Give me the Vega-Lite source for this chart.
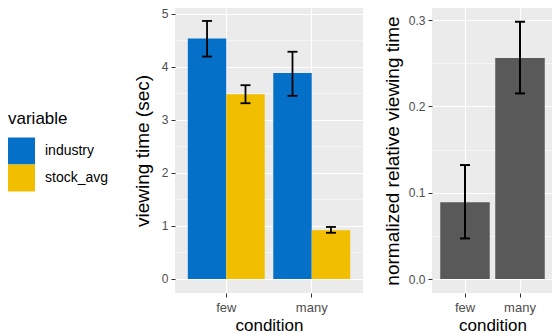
{
  "$schema": "https://vega.github.io/schema/vega-lite/v6.json",
  "padding": {"left": 8, "top": 7, "right": 0, "bottom": 0},
  "config": {
    "font": "Liberation Sans",
    "view": {"fill": "#EBEBEB", "stroke": null},
    "axis": {
      "domain": false,
      "gridColor": "#FFFFFF",
      "gridWidth": 1.2,
      "tickColor": "#333333",
      "tickSize": 4,
      "tickWidth": 1,
      "labelColor": "#4D4D4D",
      "labelFontSize": 12,
      "labelPadding": 3,
      "titleFontSize": 19,
      "titleFontWeight": "normal",
      "titleColor": "#000000"
    }
  },
  "spacing": 20,
  "resolve": {"scale": {"color": "independent"}},
  "hconcat": [
    {
      "width": 188,
      "height": 285,
      "data": {
        "values": [
          {"condition": "few", "variable": "industry", "value": 4.53, "lo": 4.19, "hi": 4.86},
          {"condition": "few", "variable": "stock_avg", "value": 3.48, "lo": 3.31, "hi": 3.65},
          {"condition": "many", "variable": "industry", "value": 3.88, "lo": 3.45, "hi": 4.28},
          {"condition": "many", "variable": "stock_avg", "value": 0.92, "lo": 0.87, "hi": 0.98}
        ]
      },
      "resolve": {"axis": {"y": "independent"}},
      "layer": [
        {
          "mark": {"type": "bar"},
          "encoding": {
            "x": {
              "field": "condition", "type": "nominal",
              "scale": {"paddingInner": 0.1, "paddingOuter": 0.15},
              "axis": {"labelAngle": 0, "grid": true, "bandPosition": 0.5, "title": "condition", "titleFontSize": 17, "labelFontSize": 13, "labelPadding": 4, "titlePadding": 3}
            },
            "xOffset": {"field": "variable", "type": "nominal", "scale": {"paddingInner": 0, "paddingOuter": 0}},
            "y": {
              "field": "value", "type": "quantitative",
              "scale": {"domain": [-0.264, 5.104], "nice": false, "zero": false},
              "axis": {"values": [0, 1, 2, 3, 4, 5], "format": "d", "title": "viewing time (sec)", "grid": true, "titlePadding": 9}
            },
            "y2": {"datum": 0},
            "color": {
              "field": "variable", "type": "nominal",
              "scale": {"range": ["#0570C7", "#F2BE00"]},
              "legend": {
                "orient": "none", "legendX": -167, "legendY": 102.5,
                "title": "variable", "titleFontSize": 17, "titleFontWeight": "normal", "titleColor": "#000000", "titlePadding": 10,
                "labelFontSize": 14, "labelColor": "#000000", "labelOffset": 10,
                "symbolType": "square", "symbolSize": 729, "symbolStrokeWidth": 0, "symbolOpacity": 1, "rowPadding": 0
              }
            }
          }
        },
        {
          "mark": {"type": "rule", "strokeWidth": 1.8, "color": "#000000"},
          "encoding": {
            "x": {"field": "condition", "type": "nominal"},
            "xOffset": {"field": "variable", "type": "nominal"},
            "y": {
              "field": "lo", "type": "quantitative",
              "axis": {"orient": "right", "grid": true, "gridWidth": 0.5, "values": [0.5, 1.5, 2.5, 3.5, 4.5], "labels": false, "ticks": false, "domain": false, "title": null}
            },
            "y2": {"field": "hi"}
          }
        },
        {
          "mark": {"type": "tick", "thickness": 1.8, "size": 10, "color": "#000000", "opacity": 1},
          "encoding": {
            "x": {"field": "condition", "type": "nominal"},
            "xOffset": {"field": "variable", "type": "nominal"},
            "y": {"field": "lo", "type": "quantitative", "axis": null}
          }
        },
        {
          "mark": {"type": "tick", "thickness": 1.8, "size": 10, "color": "#000000", "opacity": 1},
          "encoding": {
            "x": {"field": "condition", "type": "nominal"},
            "xOffset": {"field": "variable", "type": "nominal"},
            "y": {"field": "hi", "type": "quantitative", "axis": null}
          }
        }
      ]
    },
    {
      "width": 121,
      "height": 285,
      "data": {
        "values": [
          {"condition": "few", "value": 0.089, "lo": 0.047, "hi": 0.132},
          {"condition": "many", "value": 0.256, "lo": 0.215, "hi": 0.298}
        ]
      },
      "resolve": {"axis": {"y": "independent"}},
      "layer": [
        {
          "mark": {"type": "bar", "color": "#595959"},
          "encoding": {
            "x": {
              "field": "condition", "type": "nominal",
              "scale": {"paddingInner": 0.1, "paddingOuter": 0.15},
              "axis": {"labelAngle": 0, "grid": true, "bandPosition": 0.5, "title": "condition", "titleFontSize": 17, "labelFontSize": 13, "labelPadding": 4, "titlePadding": 3}
            },
            "y": {
              "field": "value", "type": "quantitative",
              "scale": {"domain": [-0.0162, 0.3139], "nice": false, "zero": false},
              "axis": {"values": [0, 0.1, 0.2, 0.3], "format": ".1f", "title": "normalized relative viewing time", "grid": true, "titlePadding": 6}
            },
            "y2": {"datum": 0}
          }
        },
        {
          "mark": {"type": "rule", "strokeWidth": 2, "color": "#000000"},
          "encoding": {
            "x": {"field": "condition", "type": "nominal"},
            "y": {
              "field": "lo", "type": "quantitative",
              "axis": {"orient": "right", "grid": true, "gridWidth": 0.5, "values": [0.05, 0.15, 0.25], "labels": false, "ticks": false, "domain": false, "title": null}
            },
            "y2": {"field": "hi"}
          }
        },
        {
          "mark": {"type": "tick", "thickness": 2, "size": 10, "color": "#000000", "opacity": 1},
          "encoding": {
            "x": {"field": "condition", "type": "nominal"},
            "y": {"field": "lo", "type": "quantitative", "axis": null}
          }
        },
        {
          "mark": {"type": "tick", "thickness": 2, "size": 10, "color": "#000000", "opacity": 1},
          "encoding": {
            "x": {"field": "condition", "type": "nominal"},
            "y": {"field": "hi", "type": "quantitative", "axis": null}
          }
        }
      ]
    }
  ]
}
